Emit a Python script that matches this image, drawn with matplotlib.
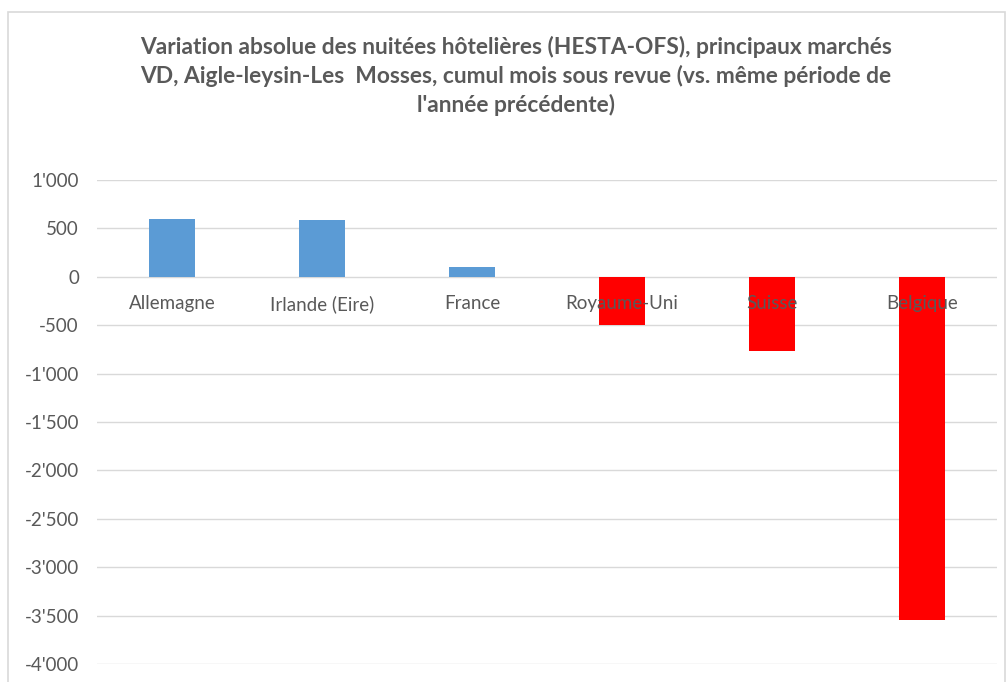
import matplotlib
matplotlib.use("Agg")
import matplotlib.pyplot as plt
from matplotlib.ticker import FuncFormatter
from matplotlib.patches import Rectangle

categories = ["Allemagne", "Irlande (Eire)", "France", "Royaume-Uni", "Suisse", "Belgique"]
values = [598, 588, 97, -497, -765, -3550]
yticks = [1000, 500, 0, -500, -1000, -1500, -2000, -2500, -3000, -3500, -4000]
title = ("Variation absolue des nuitées hôtelières (HESTA-OFS), principaux marchés\n"
         "VD, Aigle-leysin-Les  Mosses, cumul mois sous revue (vs. même période de\n"
         "l'année précédente)")

plt.rcParams['font.family'] = ['Lato', 'DejaVu Sans']
txt = "#595959"
grid = "#d9d9d9"

fig = plt.figure(figsize=(10.08, 6.82), dpi=100)
fig.patches.append(Rectangle((8/1008, -0.1), (1005-8)/1008, 1 - 12/682 + 0.1,
                             transform=fig.transFigure, fill=False,
                             edgecolor="#d9d9d9", linewidth=1.2))
ax = fig.add_axes([97/1008, 1 - 664/682, 900/1008, (664-180)/682])

colors = ["#5b9bd5" if v >= 0 else "#ff0000" for v in values]
x = list(range(len(categories)))
ax.bar(x, values, width=0.31, color=colors, zorder=2)
ax.set_xlim(-0.5, len(categories) - 0.5)
ax.set_ylim(-4000, 1000)
ax.set_yticks(yticks)
ax.yaxis.set_major_formatter(FuncFormatter(lambda v, p: f"{int(v):,}".replace(",", "'")))
ax.tick_params(axis='y', length=0, pad=13, labelsize=13.5, labelcolor=txt)
ax.set_xticks([])
ax.grid(axis='y', color=grid, linewidth=1, zorder=0)
for s in ax.spines.values():
    s.set_visible(False)
for xi, c in zip(x, categories):
    ax.text(xi, -280, c, ha='center', va='center', fontsize=13.5, color=txt, zorder=5)

fig.text(516/1008, 1 - 76/682, title, ha='center', va='center', fontsize=16.4,
         fontweight='bold', color=txt, linespacing=1.4)

fig.savefig("out.png", dpi=100)
